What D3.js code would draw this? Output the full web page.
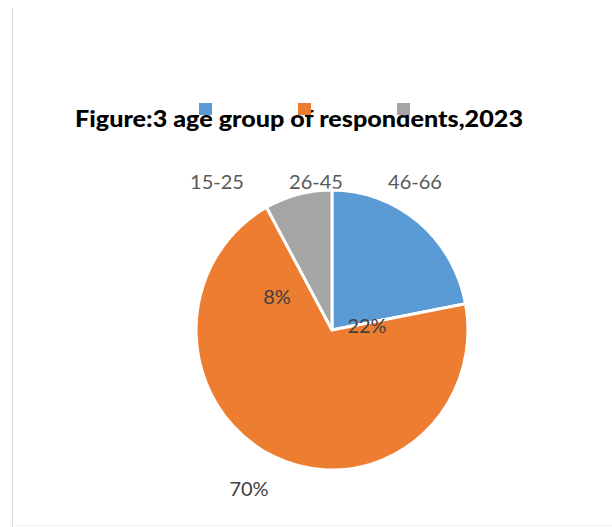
<!DOCTYPE html>
<html>
<head>
<meta charset="utf-8">
<script src="https://cdn.jsdelivr.net/npm/d3@7"></script>
<style>
  html, body { margin: 0; padding: 0; background: #fff; }
  svg { display: block; }
</style>
</head>
<body>
<svg id="chart" width="612" height="527"></svg>
<script>
// Age groups of respondents, 2023 (share in %)
const categories = ["15-25", "26-45", "46-66"];
const values = [22, 70, 8];
const colors = ["#5B9BD5", "#ED7D31", "#A5A5A5"];
const percentLabels = ["22%", "70%", "8%"];
const title = "Figure:3 age group of respondents,2023";

const svg = d3.select("#chart");
const W = 612, H = 527;

// frame edges
svg.append("line").attr("x1", 12.5).attr("x2", 12.5).attr("y1", 8).attr("y2", H)
  .attr("stroke", "#d9d9d9").attr("stroke-width", 1);
svg.append("line").attr("x1", 12).attr("x2", W).attr("y1", 525.5).attr("y2", 525.5)
  .attr("stroke", "#f0f0f0").attr("stroke-width", 1);

// title
svg.append("text")
  .attr("x", 75).attr("y", 127)
  .attr("textLength", 448).attr("lengthAdjust", "spacingAndGlyphs")
  .style("font-family", "Lato, 'Open Sans', sans-serif")
  .style("font-weight", "900")
  .style("font-size", "23.5px")
  .attr("fill", "#000")
  .text(title);

// legend: markers in a row, names in a row beneath
const legendX = d3.scalePoint().domain(categories).range([217, 415]);
svg.selectAll("rect.legend").data(categories).join("rect")
  .attr("class", "legend")
  .attr("x", d => legendX(d) - 18).attr("y", 103)
  .attr("width", 13).attr("height", 12)
  .attr("fill", (d, i) => colors[i]);
svg.selectAll("text.legend").data(categories).join("text")
  .attr("class", "legend")
  .attr("x", d => legendX(d)).attr("y", 189)
  .attr("text-anchor", "middle")
  .style("font-family", "Lato, 'Open Sans', sans-serif")
  .style("font-size", "20px")
  .attr("fill", "#595959")
  .text(d => d);

// pie
const cx = 332, cy = 330, r = 138;
const pie = d3.pie().sort(null).value(d => d);
const arcs = pie(values);
const arc = d3.arc().innerRadius(0).outerRadius(r);

const g = svg.append("g").attr("transform", `translate(${cx},${cy}) scale(0.985,1.015)`);
g.selectAll("path").data(arcs).join("path")
  .attr("d", arc)
  .attr("fill", (d, i) => colors[i])
  .attr("stroke", "#fff")
  .attr("stroke-width", 3)
  .attr("stroke-linejoin", "round");

// data labels, offsets from the pie centre
const labelOffsets = [[35, 3], [-83, 166], [-55, -26]];
svg.selectAll("text.pct").data(arcs).join("text")
  .attr("class", "pct")
  .attr("x", (d, i) => cx + labelOffsets[i][0])
  .attr("y", (d, i) => cy + labelOffsets[i][1])
  .attr("text-anchor", "middle")
  .style("font-family", "Lato, 'Open Sans', sans-serif")
  .style("font-size", "20px")
  .attr("fill", "#404040")
  .text((d, i) => percentLabels[i]);
</script>
</body>
</html>
